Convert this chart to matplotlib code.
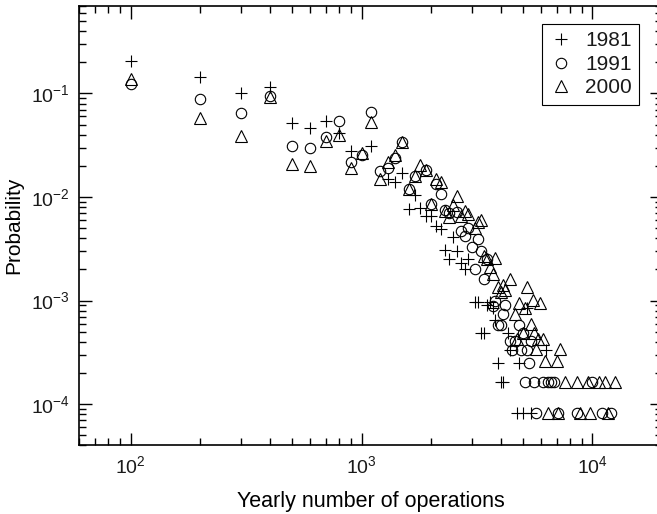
import numpy as np
import matplotlib
matplotlib.use("Agg")
import matplotlib.pyplot as plt
from matplotlib.ticker import LogLocator, NullFormatter

plt.rcParams['font.family'] = ['Liberation Sans', 'DejaVu Sans']
plt.rcParams['axes.unicode_minus'] = False
plt.rcParams['text.color'] = '#1a1a1a'

# yearly number of operations / probability
x1981 = [100, 200, 300, 400, 500, 600, 700, 800, 900, 1100, 1300, 1400, 1500,
         1600, 1700, 1800, 1900, 2000, 2100, 2200, 2300, 2400, 2500, 2600, 2700,
         2800, 2900, 3100, 3200, 3300, 3400, 3500, 3600, 3700, 3800, 3900, 4000,
         4100, 4300, 4400, 4700, 4800, 5000, 5200, 5400, 6300]
p1981 = [0.204, 0.143, 0.102, 0.116, 0.0515, 0.046, 0.054, 0.042, 0.028, 0.031,
         0.0150, 0.0139, 0.0169, 0.0077, 0.0104, 0.0079, 0.0065, 0.0065, 0.0053,
         0.0049, 0.0031, 0.0025, 0.0041, 0.0030, 0.0023, 0.0020, 0.0025, 0.00097,
         0.00097, 0.00049, 0.00049, 0.0009, 0.00097, 0.00084, 0.00065, 0.00025,
         0.000163, 0.000163, 0.00049, 0.00033, 8.2e-5, 0.00025, 8.2e-5, 0.00084,
         8.2e-5, 0.00033]

x1991 = [100, 200, 300, 400, 500, 600, 700, 800, 900, 1000, 1100, 1200, 1300,
         1400, 1500, 1600, 1700, 1900, 2000, 2100, 2200, 2300, 2400, 2600, 2700,
         2800, 2900, 3000, 3100, 3200, 3300, 3400, 3500, 3700, 3800, 3900, 4000,
         4100, 4200, 4400, 4500, 4600, 4800, 4900, 5000, 5100, 5200, 5300, 5400,
         5600, 5700, 6100, 6400, 6600, 6800, 7100, 8600, 10000, 11000, 12000]
p1991 = [0.123, 0.088, 0.0644, 0.095, 0.031, 0.0295, 0.0383, 0.054, 0.0219,
         0.0255, 0.066, 0.018, 0.019, 0.0236, 0.034, 0.012, 0.016, 0.0182, 0.0086,
         0.0135, 0.0108, 0.0075, 0.0070, 0.0071, 0.0047, 0.0042, 0.0050, 0.0033,
         0.0020, 0.0039, 0.0030, 0.0016, 0.0025, 0.00089, 0.0010, 0.00058, 0.00058,
         0.00075, 0.0009, 0.00041, 0.00033, 0.00041, 0.00058, 0.00033, 0.00049,
         0.000165, 0.00033, 0.00025, 0.00041, 0.000165, 8.2e-5, 0.000165,
         0.000165, 0.000165, 0.000165, 8.2e-5, 8.2e-5, 0.000165, 8.2e-5, 8.2e-5]

x2000 = [100, 200, 300, 400, 500, 600, 700, 800, 900, 1000, 1100, 1200, 1300,
         1400, 1500, 1600, 1700, 1800, 1900, 2000, 2100, 2200, 2300, 2400, 2500,
         2600, 2700, 2800, 2900, 3100, 3200, 3300, 3400, 3500, 3600, 3700, 3800,
         3900, 4000, 4100, 4200, 4400, 4600, 4700, 4800, 5000, 5100, 5200, 5400,
         5500, 5600, 5700, 5800, 5900, 6100, 6200, 6400, 7000, 7100, 7200, 7600,
         8600, 8800, 9600, 9800, 10700, 11300, 11700, 12500]
p2000 = [0.137, 0.0576, 0.0388, 0.093, 0.0207, 0.0199, 0.0347, 0.0397, 0.0191,
         0.0268, 0.053, 0.0148, 0.0217, 0.0252, 0.034, 0.012, 0.0159, 0.0206,
         0.0182, 0.0086, 0.0148, 0.0139, 0.0073, 0.0064, 0.0084, 0.0102, 0.0066,
         0.0073, 0.0068, 0.0050, 0.0058, 0.0060, 0.0027, 0.0025, 0.0021, 0.0018,
         0.0026, 0.00136, 0.0012, 0.00141, 0.00126, 0.0016, 0.00075, 0.00043,
         0.00094, 0.00049, 0.00084, 0.00136, 0.0006, 0.00101, 0.00049, 0.00034,
         0.00043, 0.00094, 0.00043, 0.00026, 8.2e-5, 0.00026, 8.2e-5, 0.00034,
         0.000165, 0.000165, 8.2e-5, 0.000165, 8.2e-5, 0.000165, 0.000165, 8.2e-5,
         0.000165]

fig = plt.figure(figsize=(6.57, 5.14), dpi=100)
ax = fig.add_axes([79.3 / 657, 1 - 445.3 / 514, (662 - 79.3) / 657, (445.3 - 6) / 514])

kw = dict(linestyle='none', color='black', markerfacecolor='none', markeredgewidth=0.8)
ax.plot(x1981, p1981, marker='+', markersize=8.5, label='1981', **kw)
ax.plot(x1991, p1991, marker='o', markersize=7.5, label='1991', **kw)
ax.plot(x2000, p2000, marker='^', markersize=8.5, label='2000', **kw)

ax.set_xscale('log')
ax.set_yscale('log')
ax.set_xlim(60, 20000)
ax.set_ylim(4e-5, 0.7)

for s in ax.spines.values():
    s.set_linewidth(1.2)

ax.xaxis.set_minor_locator(LogLocator(base=10, subs=np.arange(2, 10), numticks=20))
ax.yaxis.set_minor_locator(LogLocator(base=10, subs=np.arange(2, 10), numticks=20))
ax.xaxis.set_minor_formatter(NullFormatter())
ax.yaxis.set_minor_formatter(NullFormatter())
ax.tick_params(which='both', direction='in', top=True, right=True, width=1.0,
               labelcolor='#1a1a1a')
ax.tick_params(which='major', length=9, labelsize=14, pad=7)
ax.tick_params(which='minor', length=5)

ax.set_xlabel('Yearly number of operations', fontsize=15.5, labelpad=10)
ax.set_ylabel('Probability', fontsize=15, labelpad=5)

leg = ax.legend(loc='upper right', bbox_to_anchor=(0.9605, 0.959), borderaxespad=0,
                fontsize=15, fancybox=False, framealpha=1, handlelength=1.1,
                handletextpad=0.6, labelspacing=0.22, borderpad=0.35)
leg.get_frame().set_edgecolor('black')
leg.get_frame().set_linewidth(0.8)

fig.savefig('out.png', dpi=100)
